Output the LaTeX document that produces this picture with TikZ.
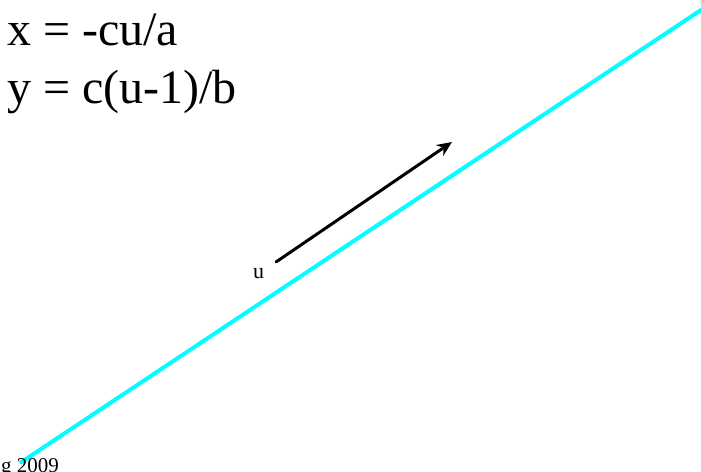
\documentclass[tikz,border=0pt]{standalone}
\usepackage{fontspec}
\setmainfont{Liberation Serif}
\usetikzlibrary{arrows.meta,positioning}
\definecolor{linecyan}{RGB}{0,255,255}

\begin{document}
\begin{tikzpicture}[x=1pt, y=1pt, line cap=round, line join=round]
\useasboundingbox (0,0) rectangle (701,-471);
% equations
\node[anchor=base west, inner sep=0, font=\fontsize{48}{54}\selectfont] (xeq) at (7,-45) {x = -cu/a};
\node[anchor=base west, inner sep=0, font=\fontsize{48}{54}\selectfont] (yeq) at (7,-103) {y = c(u-1)/b};
% cyan line
\coordinate (lstart) at (20,-463);
\coordinate (lend) at (716,0);
\draw[line width=4pt, linecyan, line cap=butt] (lstart) -- (lend);
% direction u
\coordinate (ustart) at (276,-262);
\coordinate (uend) at (452,-142);
\draw[line width=3pt, -{Stealth[length=15pt, width=13pt]}] (ustart) -- (uend);
\node[anchor=base west, inner sep=0, font=\fontsize{22}{26}\selectfont] (ulab) at (253,-278) {u};
% footer
\node[anchor=base west, inner sep=0, font=\fontsize{21}{25}\selectfont] (foot) at (1,-472) {g 2009};
\end{tikzpicture}
\end{document}
